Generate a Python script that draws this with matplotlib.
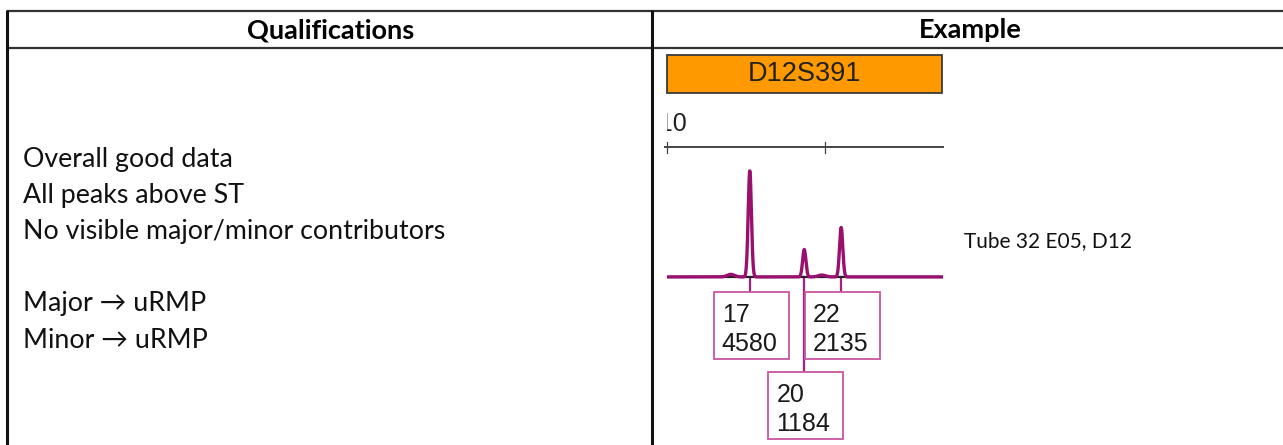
import numpy as np
import matplotlib
matplotlib.use("Agg")
from matplotlib import pyplot as plt
from matplotlib.patches import Rectangle

# Table text
headers = ["Qualifications", "Example"]
qual_lines = ["Overall good data", "All peaks above ST", "No visible major/minor contributors",
              "", "Major \u2192 uRMP", "Minor \u2192 uRMP"]
sample_note = "Tube 32 E05, D12"
marker = "D12S391"

# Electropherogram data (size in bp, height in RFU)
alleles = ["17", "20", "22"]
allele_size = [228.4, 240.5, 248.7]
allele_rfu = [4580, 1184, 2135]
minor_size = [224.2, 244.4]
minor_rfu = [110, 80]
ruler_ticks = [210, 245.1]
ruler_labels = ["210", ""]

W, H = 1283, 445
fig = plt.figure(figsize=(W / 100, H / 100), dpi=100)


def px_box(x0, y0, x1, y1):
    return [x0 / W, 1 - y1 / H, (x1 - x0) / W, (y1 - y0) / H]


main = fig.add_axes([0, 0, 1, 1])
main.set_xlim(0, W)
main.set_ylim(H, 0)
main.axis("off")

txt_font = ["Lato", "DejaVu Sans"]
line_c = "#333333"

# table grid
main.plot([7, W], [11, 11], color=line_c, lw=1.6, solid_capstyle="butt")
main.plot([7, W], [48, 48], color=line_c, lw=1.6, solid_capstyle="butt")
main.plot([7, 7], [10, H], color="#111111", lw=2.2, solid_capstyle="butt")
main.plot([652, 652], [10, H], color="#111111", lw=2.2, solid_capstyle="butt")

main.text(331, 30, headers[0], ha="center", va="center", fontsize=19.5,
          fontweight="bold", family=txt_font)
main.text(970, 30, headers[1], ha="center", va="center", fontsize=19.5,
          fontweight="bold", family=txt_font)

for i, s in enumerate(qual_lines):
    if s:
        main.text(23, 160 + 36 * i, s, ha="left", va="center", fontsize=19.3,
                  family=txt_font, color="#111111")

main.text(964, 241, sample_note, ha="left", va="center", fontsize=15,
          family=txt_font, color="#111111")

# marker header box
main.add_patch(Rectangle((667, 55), 275, 38, facecolor="#FF9900",
                         edgecolor="#3a3a3a", lw=1.3))
main.text(805, 74, marker, ha="center", va="center", fontsize=19.5,
          family="Liberation Sans", color="#222222")

x_range = (210, 210 + 276 / 4.5)

# ruler
ruler = fig.add_axes(px_box(667, 105, 943, 160))
ruler.set_xlim(*x_range)
ruler.set_ylim(160, 105)
ruler.axis("off")
ruler.plot([x_range[0] - 0.4, x_range[1]], [147, 147], color="#444444", lw=1.4,
           clip_on=False)
for t, lab in zip(ruler_ticks, ruler_labels):
    ruler.plot([t, t], [142, 153], color="#444444", lw=0.9, clip_on=False)
    if lab:
        ruler.text(t, 131, lab, ha="center", va="baseline", fontsize=18,
                   family="Liberation Sans", color="#222222", clip_on=True)

# trace
epg = fig.add_axes(px_box(667, 160, 943, 285))
epg.set_xlim(*x_range)
epg.set_ylim(-350, 5050)
epg.axis("off")
xs = np.linspace(x_range[0], x_range[1], 3000)
ys = np.zeros_like(xs)
for p, h in zip(allele_size, allele_rfu):
    ys += h * np.exp(-0.5 * ((xs - p) / 0.36) ** 2)
for p, h in zip(minor_size, minor_rfu):
    ys += h * np.exp(-0.5 * ((xs - p) / 0.8) ** 2)
epg.axhline(0, color="#222222", lw=1.6, zorder=1)
epg.plot(xs, ys, color="#99106F", lw=2.4, zorder=2)


def bp_to_px(bp):
    return main.transData.inverted().transform(epg.transData.transform((bp, 0)))[0]


# allele call boxes
row_end = {}
stem_c = "#A8207F"
box_c = "#C8559F"
for a, p, h in sorted(zip(alleles, allele_size, allele_rfu), key=lambda t: t[1]):
    xp = bp_to_px(p)
    left = xp - 36
    row = 0
    while row in row_end and left < row_end[row]:
        row += 1
    row_end[row] = left + 75
    top = 292 + 80 * row
    main.plot([xp, xp], [277, top], color=stem_c, lw=1.6, zorder=3)
    main.add_patch(Rectangle((left, top), 75, 67, facecolor="white",
                             edgecolor=box_c, lw=1.3, zorder=4))
    main.text(left + 8, top + 30, a, ha="left", va="baseline", fontsize=18,
              family="Liberation Sans", color="#1a1a1a", zorder=5)
    main.text(left + 8, top + 59, str(h), ha="left", va="baseline", fontsize=18,
              family="Liberation Sans", color="#1a1a1a", zorder=5)

fig.savefig("out.png", dpi=100)
